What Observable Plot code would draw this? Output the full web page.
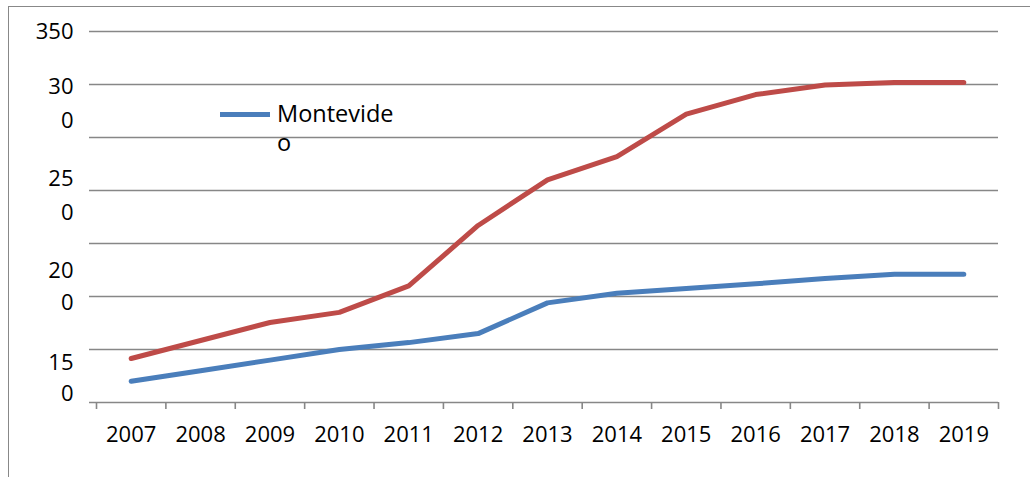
<!DOCTYPE html>
<html>
<head>
<meta charset="utf-8">
<script src="https://cdn.jsdelivr.net/npm/d3@7"></script>
<script src="https://cdn.jsdelivr.net/npm/@observablehq/plot@0.6"></script>
<style>
  html, body { margin: 0; padding: 0; background: #fff; }
  #wrap { position: relative; width: 1030px; height: 477px; overflow: hidden; font-family: "Open Sans", sans-serif; }
  #frame { position: absolute; left: 8px; top: 6px; width: 1100px; height: 600px;
           border-left: 1.5px solid #888; border-top: 1.5px solid #888; pointer-events: none; }
  #legend { position: absolute; left: 220px; top: 99px; display: flex; align-items: flex-start; }
  #legend .swatch { width: 50px; height: 5px; background: #4A7EBB; margin-top: 13px; margin-right: 7px; }
  #legend .label { font-size: 23.5px; line-height: 29px; color: #000; }
  #chart svg { position: absolute; left: 0; top: 0; }
</style>
</head>
<body>
<div id="wrap">
  <div id="chart"></div>
  <div id="frame"></div>
  <div id="legend"><div class="swatch"></div><div class="label">Montevide<br>o</div></div>
</div>
<script>
// ---- data ----
const years = [2007, 2008, 2009, 2010, 2011, 2012, 2013, 2014, 2015, 2016, 2017, 2018, 2019];
const montevideo = [20, 30, 40, 50, 56.5, 65, 94, 103, 107.5, 112, 117, 121, 121];
const serie2 = [41.5, 58.5, 75.5, 85, 110, 167, 210, 232, 272, 290.5, 299.5, 302, 302];
const gridValues = [0, 50, 100, 150, 200, 250, 300, 350];
// y tick labels as they appear (wrapped) in the original, with their vertical positions in data units
const yLabelText = ["350", "30", "0", "25", "0", "20", "0", "15", "0"];
const yLabelAt = [350, 298, 266, 211, 179, 124.5, 93.5, 37.7, 8.5];
const tickEdges = years.map(y => y - 0.5).concat([years[years.length - 1] + 0.5]);

const grey = "#878787";
const chart = Plot.plot({
  width: 1030,
  height: 477,
  marginLeft: 96,
  marginRight: 32,
  marginTop: 31,
  marginBottom: 75,
  style: { fontFamily: "'Open Sans', sans-serif", background: "transparent" },
  x: { type: "linear", domain: [2006.5, 2019.5], axis: null },
  y: { domain: [0, 350], axis: null },
  marks: [
    Plot.ruleY(gridValues, { stroke: grey, strokeWidth: 1.6, insetLeft: -7 }),
    Plot.axisX({ ticks: tickEdges, tickSize: 7, tickFormat: () => "", stroke: grey, strokeWidth: 1.6 }),
    Plot.text(years, { x: d => d, frameAnchor: "bottom", dy: 32, text: d => String(d), fontSize: 22, fill: "#000", lineAnchor: "middle" }),
    Plot.text(yLabelText, { y: yLabelAt, text: d => d, frameAnchor: "left", dx: -23, textAnchor: "end", fontSize: 22, fill: "#000", lineAnchor: "middle" }),
    Plot.line(serie2, { x: years, y: serie2, stroke: "#BE4B48", strokeWidth: 5, strokeLinejoin: "round" }),
    Plot.line(montevideo, { x: years, y: montevideo, stroke: "#4A7EBB", strokeWidth: 5, strokeLinejoin: "round" })
  ]
});
document.getElementById("chart").appendChild(chart);
</script>
</body>
</html>
